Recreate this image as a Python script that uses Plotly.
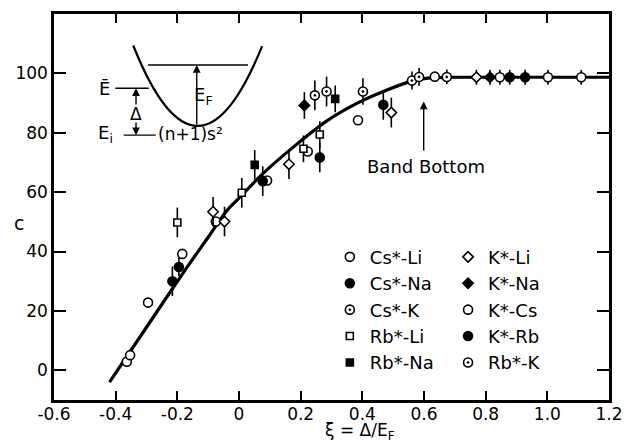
import plotly.graph_objects as go

# ---------------- data ----------------
cs_li_x = [-0.364, -0.353, -0.295, -0.184, -0.075, 0.091, 0.223, 0.386]
cs_li_y = [2.9, 5.1, 22.8, 39.2, 50.1, 63.9, 73.7, 84.2]
cs_li_e = [0, 0, 0, 0, 0, 0, 0, 0]

cs_na_x = [-0.216, -0.195, 0.077, 0.262, 0.468, 0.928]
cs_na_y = [30.0, 34.8, 63.7, 71.7, 89.4, 98.7]
cs_na_e = [5, 3, 5, 5, 5, 2.5]

cs_k_x = [0.246, 0.284, 0.402]
cs_k_y = [92.6, 93.9, 93.9]
cs_k_e = [5, 5, 4.5]

rb_li_x = [-0.200, 0.009, 0.209, 0.262]
rb_li_y = [49.8, 59.8, 74.6, 79.4]
rb_li_e = [5, 5, 4.5, 4.5]

rb_na_x = [0.051, 0.312]
rb_na_y = [69.2, 91.4]
rb_na_e = [5, 4.5]

k_li_x = [-0.084, -0.047, 0.162, 0.494, 0.770]
k_li_y = [53.4, 50.1, 69.4, 86.8, 98.7]
k_li_e = [5, 5, 5, 5, 2.5]

k_na_x = [0.212, 0.814]
k_na_y = [89.2, 98.7]
k_na_e = [4.5, 2.5]

k_cs_x = [0.635, 0.846, 1.002, 1.110]
k_cs_y = [98.9, 98.7, 98.7, 98.7]
k_cs_e = [0, 2.5, 2.5, 2.5]

k_rb_x = [0.878]
k_rb_y = [98.7]
k_rb_e = [2.5]

rb_k_x = [0.561, 0.584, 0.674]
rb_k_y = [97.6, 98.8, 98.8]
rb_k_e = [3, 3, 2.5]

curve_x = [-0.42, -0.30, -0.18, -0.10, -0.04, 0.00, 0.075, 0.18, 0.285, 0.39, 0.47, 0.56, 0.62, 0.70, 1.20]
curve_y = [-4.0, 14.5, 33.0, 44.8, 53.7, 58.0, 66.0, 75.5, 84.0, 90.3, 94.0, 97.4, 98.5, 98.7, 98.7]

x_ticks = [-0.6, -0.4, -0.2, 0, 0.2, 0.4, 0.6, 0.8, 1.0, 1.2]
x_tick_text = ["-0.6", "-0.4", "-0.2", "0", "0.2", "0.4", "0.6", "0.8", "1.0", "1.2"]
y_ticks = [0, 20, 40, 60, 80, 100]
y_tick_text = ["0", "20", "40", "60", "80", "100"]

FONT = "DejaVu Sans"
INK = "black"

fig = go.Figure()

# fitted curve
fig.add_trace(go.Scatter(x=curve_x, y=curve_y, mode="lines",
                         line=dict(color=INK, width=3.2, shape="spline", smoothing=0.8),
                         showlegend=False, hoverinfo="skip"))

series = [
    # name, x, y, err, symbol, fill, size, legend
    ("Cs*-Li", cs_li_x, cs_li_y, cs_li_e, "circle", "white", 9, "legend"),
    ("Cs*-Na", cs_na_x, cs_na_y, cs_na_e, "circle", INK, 9, "legend"),
    ("Cs*-K", cs_k_x, cs_k_y, cs_k_e, "circle-dot", "white", 9, "legend"),
    ("Rb*-Li", rb_li_x, rb_li_y, rb_li_e, "square", "white", 7, "legend"),
    ("Rb*-Na", rb_na_x, rb_na_y, rb_na_e, "square", INK, 7, "legend"),
    ("K*-Li", k_li_x, k_li_y, k_li_e, "diamond", "white", 8, "legend2"),
    ("K*-Na", k_na_x, k_na_y, k_na_e, "diamond", INK, 8, "legend2"),
    ("K*-Cs", k_cs_x, k_cs_y, k_cs_e, "circle", "white", 9, "legend2"),
    ("K*-Rb", k_rb_x, k_rb_y, k_rb_e, "circle", INK, 9, "legend2"),
    ("Rb*-K", rb_k_x, rb_k_y, rb_k_e, "circle-dot", "white", 9, "legend2"),
]
for name, xs, ys, es, sym, fill, size, leg in series:
    fig.add_trace(go.Scatter(
        x=xs, y=ys, mode="markers", name=name, legend=leg,
        marker=dict(symbol=sym, size=size, color=fill, line=dict(color=INK, width=1.6)),
        error_y=dict(type="data", array=es, visible=True, color=INK, thickness=1.6, width=0),
        hoverinfo="skip"))

# ---------------- inset schematic ----------------
par_left = (-0.343, 109.4)
par_ctrl = (-0.135, 55.3)
par_right = (0.075, 109.2)
ef_y, ef_x0, ef_x1 = 102.8, -0.295, 0.029
ebar_y, ebar_x0, ebar_x1 = 95.0, -0.401, -0.293
ei_y, ei_x0, ei_x1 = 79.2, -0.374, -0.270
vertex_x, vertex_y = -0.137, 82.3
delta_x = -0.334

shapes = [
    dict(type="path", xref="x", yref="y",
         path=f"M {par_left[0]},{par_left[1]} Q {par_ctrl[0]},{par_ctrl[1]} {par_right[0]},{par_right[1]}",
         line=dict(color=INK, width=2.2)),
    dict(type="line", xref="x", yref="y", x0=ef_x0, x1=ef_x1, y0=ef_y, y1=ef_y, line=dict(color=INK, width=1.4)),
    dict(type="line", xref="x", yref="y", x0=ebar_x0, x1=ebar_x1, y0=ebar_y, y1=ebar_y, line=dict(color=INK, width=1.4)),
    dict(type="line", xref="x", yref="y", x0=ei_x0, x1=ei_x1, y0=ei_y, y1=ei_y, line=dict(color=INK, width=1.4)),
]

def arrow(xh, yh, xt, yt):
    return dict(x=xh, y=yh, ax=xt, ay=yt, xref="x", yref="y", axref="x", ayref="y",
                showarrow=True, arrowhead=2, arrowsize=1.1, arrowwidth=1.4, arrowcolor=INK,
                text="", standoff=0, startstandoff=0)

def label(x, y, txt, size=18, xref="x", yref="y", xanchor="center"):
    return dict(x=x, y=y, xref=xref, yref=yref, text=txt, showarrow=False,
                xanchor=xanchor, yanchor="middle",
                font=dict(family=FONT, size=size, color=INK))

annotations = [
    arrow(vertex_x, ef_y, vertex_x, vertex_y),
    arrow(delta_x, ebar_y, delta_x, 89.0),
    arrow(delta_x, ei_y, delta_x, 84.0),
    label(delta_x, 86.4, "Δ", 17),
    label(-0.116, 92.5, "E<sub>F</sub>", 18),
    label(-0.436, 95.0, "Ē", 18),
    label(-0.432, 79.5, "E<sub>i</sub>", 18),
    label(-0.268, 79.5, "(n+1)s²", 17, xanchor="left"),
    # Band bottom
    arrow(0.599, 90.5, 0.599, 73.5),
    label(0.605, 68.7, "Band Bottom", 18),
    # axis titles
    label(-0.063, 0.458, "c", 19, xref="paper", yref="paper"),
    label(0.552, -0.082, "ξ = Δ/E<sub>F</sub>", 17, xref="paper", yref="paper"),
]

axis_common = dict(showline=True, linecolor=INK, linewidth=2.5, mirror="ticks",
                   ticks="inside", tickcolor=INK, tickwidth=2, showgrid=False, zeroline=False,
                   tickfont=dict(family=FONT, size=17, color=INK))

fig.update_layout(
    width=634, height=443,
    margin=dict(l=54, r=13, t=11, b=43),
    paper_bgcolor="white", plot_bgcolor="white",
    xaxis=dict(range=[-0.6, 1.2], tickvals=x_ticks, ticktext=x_tick_text, ticklen=9,
               ticklabelstandoff=-3, **axis_common),
    yaxis=dict(range=[-10, 120], tickvals=y_ticks, ticktext=y_tick_text, ticklen=12, **axis_common),
    shapes=shapes, annotations=annotations,
    legend=dict(x=0.497, y=0.418, xanchor="left", yanchor="top", bgcolor="rgba(0,0,0,0)",
                font=dict(family=FONT, size=18, color=INK)),
    legend2=dict(x=0.71, y=0.418, xanchor="left", yanchor="top", bgcolor="rgba(0,0,0,0)",
                 font=dict(family=FONT, size=18, color=INK)),
    hovermode=False,
)

fig.write_html("out.html")
